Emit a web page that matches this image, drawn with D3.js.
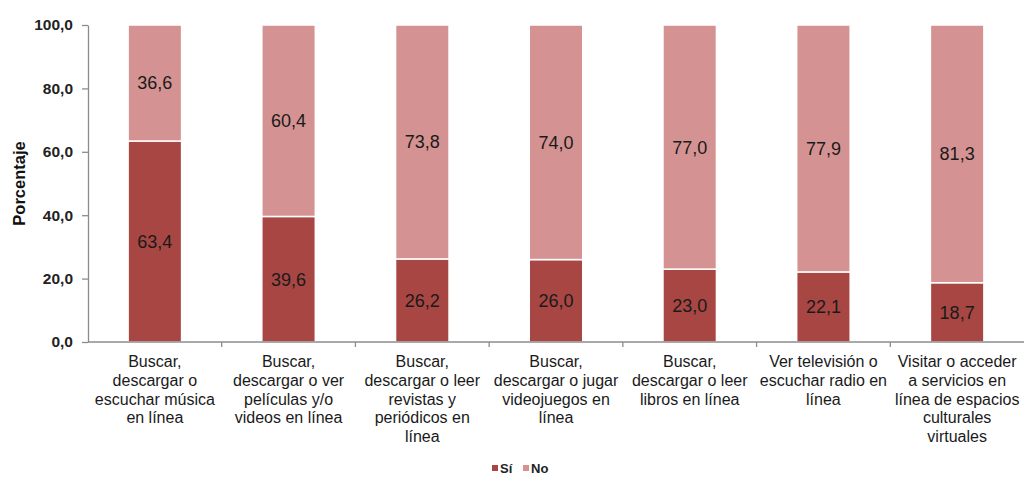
<!DOCTYPE html>
<html>
<head>
<meta charset="utf-8">
<script src="https://cdn.jsdelivr.net/npm/d3@7/dist/d3.min.js"></script>
<style>
  html, body { margin: 0; padding: 0; background: #fff; }
  svg { display: block; font-family: "Liberation Sans", Arial, sans-serif; }
</style>
</head>
<body>
<svg id="chart" width="1028" height="477"></svg>
<script>
// Categories (multi-line labels)
const categories = [
  ["Buscar,", "descargar o", "escuchar música", "en línea"],
  ["Buscar,", "descargar o ver", "películas y/o", "videos en línea"],
  ["Buscar,", "descargar o leer", "revistas y", "periódicos en", "línea"],
  ["Buscar,", "descargar o jugar", "videojuegos en", "línea"],
  ["Buscar,", "descargar o leer", "libros en línea"],
  ["Ver televisión o", "escuchar radio en", "línea"],
  ["Visitar o acceder", "a servicios en", "línea de espacios", "culturales", "virtuales"]
];
const siValues = [63.4, 39.6, 26.2, 26.0, 23.0, 22.1, 18.7];
const noValues = [36.6, 60.4, 73.8, 74.0, 77.0, 77.9, 81.3];
const seriesNames = ["Sí", "No"];
const yTicks = [0, 20, 40, 60, 80, 100];

const colors = { "Sí": "#a84643", "No": "#d49392" };

const svg = d3.select("#chart");
const margin = { left: 88, right: 4, top: 25, bottom: 135 };
const W = 1028, H = 477;

const x = d3.scaleBand()
  .domain(d3.range(categories.length))
  .range([margin.left, W - margin.right])
  .paddingInner(0.6).paddingOuter(0.3);

const y = d3.scaleLinear().domain([0, 100]).range([H - margin.bottom, margin.top]);

const fmt = v => v.toFixed(1).replace(".", ",");

// Y axis
const yAxis = svg.append("g")
  .attr("transform", `translate(${margin.left},0)`)
  .call(d3.axisLeft(y).tickValues(yTicks).tickFormat(fmt).tickSize(6).tickSizeOuter(0));
yAxis.select(".domain").attr("stroke", "#8c8c8c").attr("stroke-width", 1.3);
yAxis.selectAll(".tick line").attr("stroke", "#8c8c8c").attr("stroke-width", 1.3);
yAxis.selectAll(".tick text")
  .attr("x", -15)
  .attr("font-size", 15.5)
  .attr("font-weight", "bold")
  .attr("fill", "#222");

// Y axis title
svg.append("text")
  .attr("transform", `translate(25,${(y(0) + y(100)) / 2}) rotate(-90)`)
  .attr("text-anchor", "middle")
  .attr("font-size", 16.5)
  .attr("font-weight", "bold")
  .attr("fill", "#111")
  .text("Porcentaje");

// Stacked bars
const stackData = categories.map((c, i) => ({ i, "Sí": siValues[i], "No": noValues[i] }));
const stacked = d3.stack().keys(seriesNames)(stackData);

const layers = svg.append("g").selectAll("g")
  .data(stacked)
  .join("g")
  .attr("fill", d => colors[d.key]);

layers.selectAll("rect")
  .data(d => d)
  .join("rect")
  .attr("x", d => x(d.data.i))
  .attr("y", d => y(d[1]))
  .attr("width", x.bandwidth())
  .attr("height", d => y(d[0]) - y(d[1]))
  .attr("stroke", "#fff")
  .attr("stroke-width", 1.5);

// Value labels
stacked.forEach(layer => {
  svg.append("g").selectAll("text")
    .data(layer)
    .join("text")
    .attr("x", d => x(d.data.i) + x.bandwidth() / 2)
    .attr("y", d => (y(d[0]) + y(d[1])) / 2)
    .attr("dy", "0.36em")
    .attr("text-anchor", "middle")
    .attr("font-size", 18)
    .attr("fill", "#1a1a1a")
    .text(d => fmt(d[1] - d[0]));
});

// X axis baseline with tick marks at category boundaries
const step = x.step();
const x0 = margin.left, xEnd = W - margin.right;
svg.append("line")
  .attr("x1", x0).attr("x2", xEnd)
  .attr("y1", y(0)).attr("y2", y(0))
  .attr("stroke", "#8c8c8c").attr("stroke-width", 1.3);
const boundaries = d3.range(1, categories.length).map(i => x(i) - (step - x.bandwidth()) / 2);
svg.append("g").selectAll("line")
  .data(boundaries)
  .join("line")
  .attr("x1", d => d).attr("x2", d => d)
  .attr("y1", y(0)).attr("y2", y(0) + 5)
  .attr("stroke", "#8c8c8c").attr("stroke-width", 1.3);

// Category labels
const catG = svg.append("g");
categories.forEach((lines, i) => {
  const cx = x(i) + x.bandwidth() / 2;
  const t = catG.append("text")
    .attr("x", cx)
    .attr("y", y(0) + 25)
    .attr("text-anchor", "middle")
    .attr("font-size", 16)
    .attr("fill", "#1a1a1a");
  lines.forEach((ln, k) => {
    t.append("tspan")
      .attr("x", cx)
      .attr("dy", k === 0 ? 0 : 18.8)
      .text(ln);
  });
});

// Legend
const legend = svg.append("g").attr("transform", "translate(492,468)");
const legItems = [{ k: "Sí", dx: 0 }, { k: "No", dx: 31 }];
legItems.forEach(it => {
  const g = legend.append("g").attr("transform", `translate(${it.dx},0)`);
  g.append("rect").attr("x", 0).attr("y", -3).attr("width", 6).attr("height", 6).attr("fill", colors[it.k]);
  g.append("text").attr("x", 8).attr("y", 0).attr("dy", "0.36em")
    .attr("font-size", 13).attr("font-weight", "bold").attr("fill", "#222").text(it.k);
});
</script>
</body>
</html>
